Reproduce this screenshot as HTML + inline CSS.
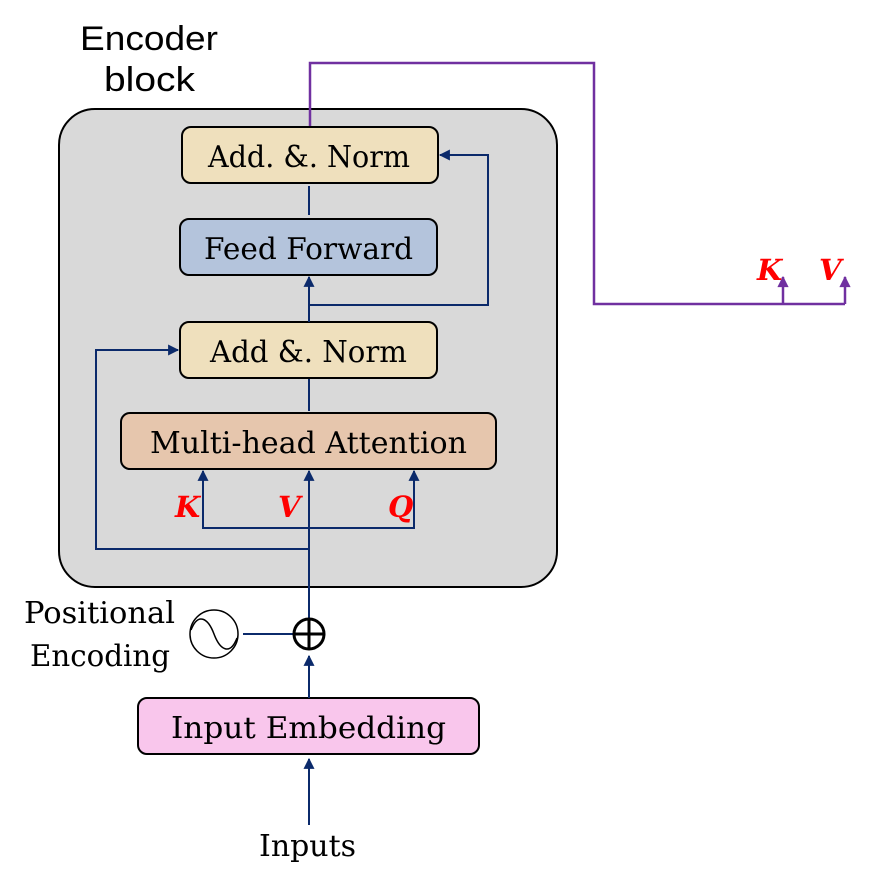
<!DOCTYPE html>
<html><head><meta charset="utf-8"><style>
html,body{margin:0;padding:0;background:#fff;}
svg{display:block;}
.s{font-family:"DejaVu Serif","Liberation Serif",serif;fill:#000;}
.lbl{font-family:"DejaVu Serif","Liberation Serif",serif;font-style:italic;font-weight:bold;fill:#ff0000;font-size:29px;}
</style></head><body>
<svg width="874" height="888" viewBox="0 0 874 888" xmlns="http://www.w3.org/2000/svg">
<defs>
<marker id="a" viewBox="0 0 10 10" refX="9" refY="5" markerWidth="6" markerHeight="5.5" orient="auto" markerUnits="strokeWidth"><path d="M0,0 L10,5 L0,10 z" fill="#0b2a6b"/></marker>
<marker id="p" viewBox="0 0 10 10" refX="9" refY="5" markerWidth="5" markerHeight="4.5" orient="auto" markerUnits="strokeWidth"><path d="M0,0 L10,5 L0,10 z" fill="#7030a0"/></marker>
</defs>
<text x="80" y="50" font-family="Liberation Sans, sans-serif" font-size="34" textLength="138" lengthAdjust="spacingAndGlyphs">Encoder</text>
<text x="104" y="91" font-family="Liberation Sans, sans-serif" font-size="34" textLength="91" lengthAdjust="spacingAndGlyphs">block</text>
<rect x="59" y="109" width="498" height="478" rx="36" fill="#d9d9d9" stroke="#000" stroke-width="2"/>
<polyline points="310,127 310,63 594,63 594,304 845,304" fill="none" stroke="#7030a0" stroke-width="2.5"/>
<line x1="783" y1="304" x2="783" y2="277" stroke="#7030a0" stroke-width="2.5" marker-end="url(#p)"/>
<line x1="845" y1="304" x2="845" y2="277" stroke="#7030a0" stroke-width="2.5" marker-end="url(#p)"/>
<text x="757" y="280" class="lbl">K</text>
<text x="819" y="280" class="lbl">V</text>
<rect x="182" y="127" width="256" height="56" rx="9" fill="#efe0bd" stroke="#000" stroke-width="2"/>
<text x="208" y="167" class="s" font-size="30" textLength="202" lengthAdjust="spacingAndGlyphs">Add. &amp;. Norm</text>
<rect x="180" y="219" width="257" height="56" rx="9" fill="#b4c4dc" stroke="#000" stroke-width="2"/>
<text x="204" y="259" class="s" font-size="30" textLength="209" lengthAdjust="spacingAndGlyphs">Feed Forward</text>
<rect x="180" y="322" width="257" height="56" rx="9" fill="#efe0bd" stroke="#000" stroke-width="2"/>
<text x="210" y="362" class="s" font-size="30" textLength="197" lengthAdjust="spacingAndGlyphs">Add &amp;. Norm</text>
<rect x="121" y="413" width="375" height="56" rx="9" fill="#e6c6ad" stroke="#000" stroke-width="2"/>
<text x="150" y="453" class="s" font-size="30" textLength="317" lengthAdjust="spacingAndGlyphs">Multi-head Attention</text>
<rect x="138" y="698" width="341" height="56" rx="9" fill="#f9c6ec" stroke="#000" stroke-width="2"/>
<text x="171" y="738" class="s" font-size="30" textLength="275" lengthAdjust="spacingAndGlyphs">Input  Embedding</text>
<g stroke="#0b2a6b" stroke-width="2" fill="none">
<line x1="309" y1="186" x2="309" y2="215"/>
<line x1="309" y1="322" x2="309" y2="277" marker-end="url(#a)"/>
<polyline points="309,305 488,305 488,155 440,155" marker-end="url(#a)"/>
<line x1="309" y1="379" x2="309" y2="411"/>
<line x1="309" y1="619" x2="309" y2="471" marker-end="url(#a)"/>
<polyline points="203,485 203,528 414,528 414,485"/>
<line x1="203" y1="487" x2="203" y2="471" marker-end="url(#a)"/>
<line x1="414" y1="487" x2="414" y2="471" marker-end="url(#a)"/>
<polyline points="309,549 96,549 96,350 178,350" marker-end="url(#a)"/>
<line x1="243" y1="634" x2="294" y2="634"/>
<line x1="309" y1="698" x2="309" y2="656" marker-end="url(#a)"/>
<line x1="309" y1="825" x2="309" y2="759" marker-end="url(#a)"/>
</g>
<text x="175" y="517" class="lbl">K</text>
<text x="278" y="517" class="lbl">V</text>
<text x="388" y="517" class="lbl">Q</text>
<circle cx="309" cy="634" r="15" fill="#fff" stroke="#000" stroke-width="3"/>
<line x1="294" y1="634" x2="324" y2="634" stroke="#000" stroke-width="3"/>
<line x1="309" y1="619" x2="309" y2="649" stroke="#000" stroke-width="3"/>
<circle cx="214" cy="634" r="24" fill="#fff" stroke="#000" stroke-width="1.5"/>
<path d="M191,630 C198,612 208,618 214,634 C220,650 230,656 237,638" fill="none" stroke="#000" stroke-width="1.5"/>
<text x="24" y="623" class="s" font-size="30" textLength="151" lengthAdjust="spacingAndGlyphs">Positional</text>
<text x="30" y="666" class="s" font-size="30" textLength="140" lengthAdjust="spacingAndGlyphs">Encoding</text>
<text x="259" y="856" class="s" font-size="30" textLength="97" lengthAdjust="spacingAndGlyphs">Inputs</text>
</svg>
</body></html>
